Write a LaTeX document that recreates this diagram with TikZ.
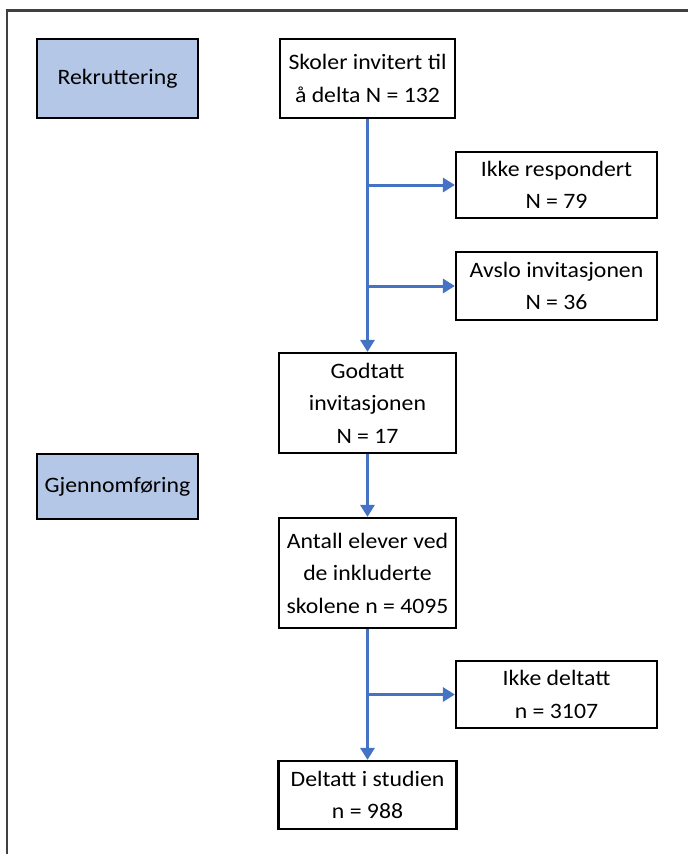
\documentclass[tikz,border=0pt]{standalone}
\usepackage{fontspec}
\setmainfont{Carlito}[FakeStretch=1.08]
\usetikzlibrary{arrows.meta}

\definecolor{PhaseBlue}{HTML}{B4C7E7}
\definecolor{FlowBlue}{HTML}{4472C4}
\definecolor{FrameGray}{HTML}{404040}

\begin{document}
\begin{tikzpicture}[x=1pt, y=-1pt,
    flowbox/.style={draw=black, line width=2.2pt, fill=white, align=center,
        inner sep=0pt, font=\fontsize{22}{32.5}\selectfont},
    phasebox/.style={flowbox, fill=PhaseBlue},
    flowarrow/.style={draw=FlowBlue, line width=3pt,
        -{Triangle[length=12pt, width=14pt]}},
]

\useasboundingbox (0,0) rectangle (688,854);

% _____ Frame
\def\FrameX{7}
\def\FrameY{10.5}
\draw[FrameGray, line width=2.4pt] (\FrameX,854) -- (\FrameX,\FrameY) -- (688,\FrameY);

% _____ Columns
\def\PhaseX{117.5}
\def\MainX{367.5}
\def\SideX{556.5}

% _____ Phase labels
\node[phasebox, minimum width=161pt, minimum height=79pt] (rekruttering) at (\PhaseX, 78.5) {Rekruttering};
\node[phasebox, minimum width=161pt, minimum height=65pt] (gjennomforing) at (\PhaseX, 486.5) {Gjennomføring};

% _____ Main flow
\node[flowbox, minimum width=175pt, minimum height=79pt] (skoler) at (\MainX, 78.5) {Skoler invitert til\\å delta N = 132};
\node[flowbox, minimum width=177pt, minimum height=100pt] (godtatt) at (\MainX, 403) {Godtatt\\invitasjonen\\N = 17};
\node[flowbox, minimum width=177pt, minimum height=110pt] (antall) at (\MainX, 573) {Antall elever ved\\de inkluderte\\skolene n = 4095};
\node[flowbox, minimum width=178pt, minimum height=68pt] (deltatt) at (\MainX, 795) {Deltatt i studien\\n = 988};

% _____ Exclusions
\node[flowbox, minimum width=201pt, minimum height=66pt] (ikkeresp) at (\SideX, 185) {Ikke respondert\\N = 79};
\node[flowbox, minimum width=201pt, minimum height=68pt] (avslo) at (\SideX, 286) {Avslo invitasjonen\\N = 36};
\node[flowbox, minimum width=201pt, minimum height=67pt] (ikkedelt) at (\SideX, 694.5) {Ikke deltatt\\n = 3107};

% _____ Arrows
\draw[flowarrow] (skoler.south) -- (godtatt.north);
\draw[flowarrow] (godtatt.south) -- (antall.north);
\draw[flowarrow] (antall.south) -- (deltatt.north);

\coordinate (splitresp) at (skoler.south |- ikkeresp.west);
\coordinate (splitavslo) at (skoler.south |- avslo.west);
\coordinate (splitdelt) at (antall.south |- ikkedelt.west);

\draw[flowarrow] (splitresp) -- (ikkeresp.west);
\draw[flowarrow] (splitavslo) -- (avslo.west);
\draw[flowarrow] (splitdelt) -- (ikkedelt.west);

\end{tikzpicture}
\end{document}
